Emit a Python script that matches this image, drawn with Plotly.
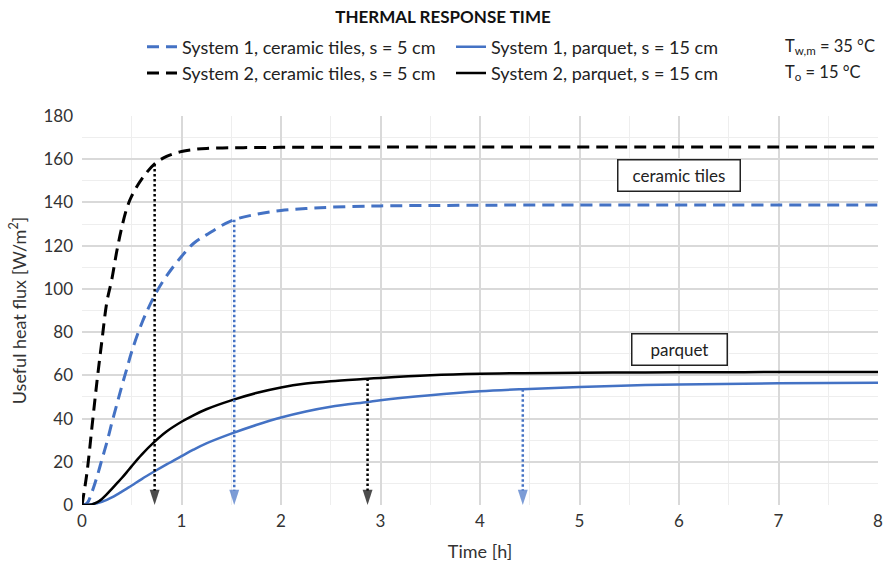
import plotly.graph_objects as go

# Time axis [h] and useful heat flux [W/m2] for each floor system
time_h = [0, 0.05, 0.1, 0.15, 0.2, 0.25, 0.3, 0.35, 0.4, 0.45, 0.5, 0.6, 0.73, 0.85, 1.0,
          1.12, 1.25, 1.5, 1.75, 2.0, 2.25, 2.5, 2.87, 3.0, 3.5, 4.0, 4.43, 5.0, 5.5, 6.0, 7.0, 8.0]

sys1_tiles = [0, 0.8, 6, 13, 21, 29, 38, 46.5, 55, 63, 71, 84, 97, 106, 115,
              121, 125, 131.5, 134.5, 136.3, 137.2, 137.8, 138.3, 138.4, 138.6, 138.7, 138.8,
              138.8, 138.8, 138.8, 138.8, 138.8]
sys2_tiles = [0, 15, 36, 57, 76, 94, 104.5, 117.5, 128.5, 137.2, 143, 150.8, 157.8, 161.3, 163.6,
              164.5, 165, 165.3, 165.4, 165.5, 165.5, 165.5, 165.6, 165.6, 165.6, 165.6, 165.6,
              165.6, 165.6, 165.6, 165.6, 165.6]
sys1_parquet = [0, 0, 0.3, 0.8, 1.5, 2.4, 3.5, 4.8, 6.2, 7.6, 9.0, 12, 15.6, 18.8, 22.6,
                25.6, 28.5, 33, 37, 40.5, 43.3, 45.5, 47.7, 48.5, 50.8, 52.6, 53.6,
                54.6, 55.3, 55.8, 56.3, 56.6]
sys2_parquet = [0, 0, 0.3, 1.2, 2.8, 5, 7.5, 10, 12.5, 15.2, 18, 23.3, 29.3, 34, 38.5,
                41.5, 44.3, 48.4, 51.8, 54.4, 56.2, 57.3, 58.4, 58.8, 60, 60.7, 61,
                61.2, 61.3, 61.4, 61.5, 61.5]

# Response times (95 % of steady state) and the flux reached at that time
resp_time = [0.73, 1.53, 2.87, 4.43]
resp_flux = [157.8, 132.0, 58.5, 53.6]
resp_color = ["#000000", "#4472C4", "#000000", "#4472C4"]

x_ticks = [0, 1, 2, 3, 4, 5, 6, 7, 8]
y_ticks = [0, 20, 40, 60, 80, 100, 120, 140, 160, 180]

BLUE = "#4472C4"
BLACK = "#000000"
FONT = "Lato, 'Open Sans', sans-serif"

# plot area in pixels, used to place the text blocks above it
W, H = 883, 574
L, R, T, B = 82, 5, 116, 69
PW, PH = W - L - R, H - T - B


def px_x(px):
    return (px - L) / PW


def px_y(py):
    return (H - B - py) / PH


fig = go.Figure()

fig.add_trace(go.Scatter(x=time_h, y=sys1_tiles, mode="lines", line_shape="spline",
                         name="System 1, ceramic tiles, s = 5 cm",
                         line=dict(color=BLUE, width=3, dash="12px,7px")))
fig.add_trace(go.Scatter(x=time_h, y=sys1_parquet, mode="lines", line_shape="spline",
                         name="System 1, parquet, s = 15 cm",
                         line=dict(color=BLUE, width=2.5)))
fig.add_trace(go.Scatter(x=time_h, y=sys2_tiles, mode="lines", line_shape="spline",
                         name="System 2, ceramic tiles, s = 5 cm",
                         line=dict(color=BLACK, width=3, dash="12px,7px")))
fig.add_trace(go.Scatter(x=time_h, y=sys2_parquet, mode="lines", line_shape="spline",
                         name="System 2, parquet, s = 15 cm",
                         line=dict(color=BLACK, width=2.5)))

# Dotted drop lines marking the response time of each curve
for t, q, c in zip(resp_time, resp_flux, resp_color):
    fig.add_trace(go.Scatter(
        x=[t, t], y=[q, 0], mode="lines+markers", showlegend=False, hoverinfo="skip",
        line=dict(color=c, width=2.5, dash="2.5px,2.5px"),
        marker=dict(symbol="arrow", size=[0, 16], angleref="previous", color=c,
                    line=dict(width=0)),
    ))

fig.update_layout(
    width=W, height=H,
    margin=dict(l=L, r=R, t=T, b=B, autoexpand=False),
    paper_bgcolor="white", plot_bgcolor="white",
    font=dict(family=FONT, size=17, color="#333"),
    title=dict(text="<b>THERMAL RESPONSE TIME</b>", x=443 / W, xanchor="center",
               y=1 - 17 / H, yanchor="middle", xref="container", yref="container",
               font=dict(family=FONT, size=17, color="#111")),
    legend=dict(orientation="h", x=142 / W, y=1 - 28.5 / H, xref="container",
                yref="container", xanchor="left", yanchor="top",
                entrywidth=264, entrywidthmode="pixels",
                font=dict(family=FONT, size=18, color="#222"),
                bgcolor="rgba(0,0,0,0)", traceorder="normal"),
    annotations=[
        dict(xref="paper", yref="paper", x=px_x(783), y=px_y(47),
             xanchor="left", yanchor="middle", showarrow=False, align="left",
             text="T<sub>w,m</sub> = 35 °C", font=dict(family=FONT, size=16.5, color="#222")),
        dict(xref="paper", yref="paper", x=px_x(783), y=px_y(72),
             xanchor="left", yanchor="middle", showarrow=False, align="left",
             text="T<sub>o</sub> = 15 °C", font=dict(family=FONT, size=16.5, color="#222")),
        dict(x=6, y=152.5, text="ceramic tiles", showarrow=False,
             font=dict(family=FONT, size=17, color="#222"),
             bordercolor="#222", borderwidth=1.5, borderpad=4,
             bgcolor="white", width=113, height=22),
        dict(x=6, y=72, text="parquet", showarrow=False,
             font=dict(family=FONT, size=17, color="#222"),
             bordercolor="#222", borderwidth=1.5, borderpad=4,
             bgcolor="white", width=86, height=22),
    ],
    xaxis=dict(range=[0, 8], tickvals=x_ticks, ticktext=[str(v) for v in x_ticks],
               showgrid=True, gridcolor="#d9d9d9", gridwidth=1.5, zeroline=False,
               showline=False, ticks="", ticklabelstandoff=4, automargin=False,
               ticklabeloverflow="allow",
               minor=dict(dtick=0.5, showgrid=True, gridcolor="#eeeeee", gridwidth=1),
               title=dict(text="Time [h]", standoff=15,
                          font=dict(family=FONT, size=18, color="#333"))),
    yaxis=dict(range=[0, 180], tickvals=y_ticks, ticktext=[str(v) for v in y_ticks],
               showgrid=True, gridcolor="#d9d9d9", gridwidth=1.5, zeroline=False,
               showline=False, ticks="", ticklabelstandoff=8, automargin=False,
               ticklabeloverflow="allow",
               minor=dict(dtick=10, showgrid=True, gridcolor="#eeeeee", gridwidth=1),
               title=dict(text="Useful heat flux [W/m<sup>2</sup>]", standoff=12,
                          font=dict(family=FONT, size=18, color="#333"))),
)

fig.write_html("out.html")
